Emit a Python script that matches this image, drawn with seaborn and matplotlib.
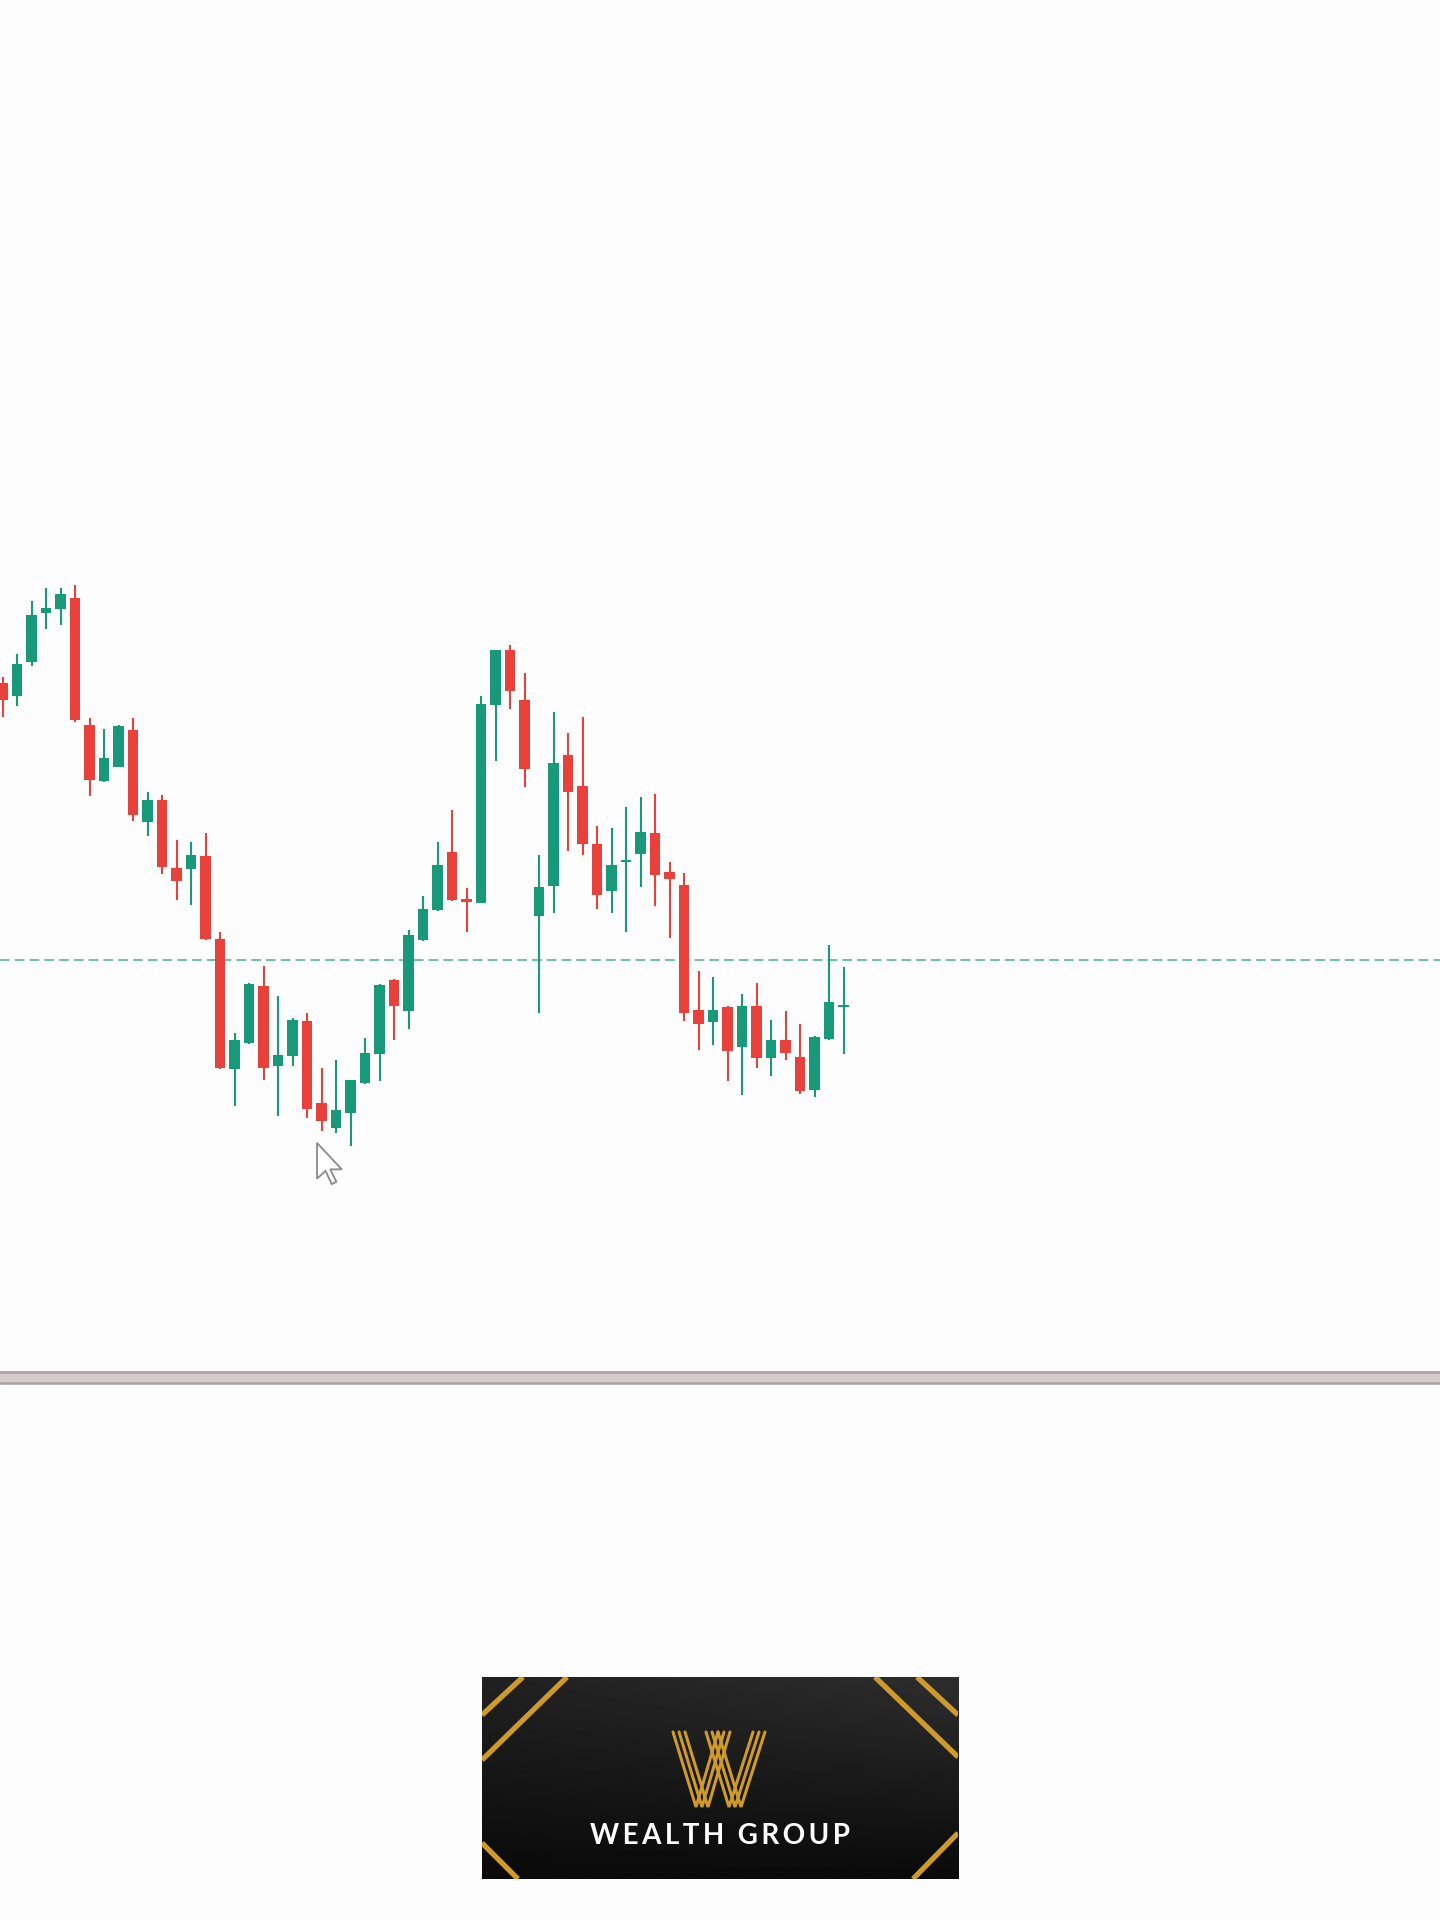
import numpy as np
import matplotlib
matplotlib.use("Agg")
import matplotlib.pyplot as plt
from matplotlib.patches import Rectangle, Polygon
from matplotlib.lines import Line2D
import seaborn as sns

# candle data (arbitrary price units)
opens = [1705, 1670, 1760, 1888, 1898, 1928, 1595, 1448, 1485, 1582,
         1342, 1400, 1222, 1220, 1252, 1035, 695, 765, 912, 703,
         730, 822, 608, 542, 582, 660, 735, 928, 848, 1032,
         1112, 1262, 1140, 1130, 1648, 1790, 1660, 1095, 1175, 1517,
         1435, 1285, 1160, 1238, 1258, 1312, 1210, 1178, 850, 820,
         858, 753, 862, 725, 772, 728, 642, 775, 858]
highs = [1720, 1780, 1918, 1952, 1952, 1962, 1612, 1585, 1595, 1612,
         1420, 1412, 1295, 1290, 1312, 1055, 790, 922, 965, 888,
         830, 842, 698, 720, 668, 778, 918, 932, 1060, 1148,
         1288, 1372, 1170, 1670, 1790, 1805, 1732, 1255, 1630, 1575,
         1615, 1332, 1325, 1380, 1408, 1415, 1237, 1207, 953, 937,
         860, 892, 920, 825, 848, 815, 782, 1020, 963]
lows = [1615, 1645, 1750, 1845, 1855, 1602, 1410, 1445, 1485, 1345,
        1305, 1205, 1138, 1125, 1032, 695, 600, 762, 668, 572,
        705, 568, 535, 530, 495, 658, 665, 772, 800, 1030,
        1110, 1135, 1055, 1130, 1500, 1638, 1432, 842, 1105, 1265,
        1255, 1115, 1105, 1055, 1172, 1122, 1038, 822, 745, 760,
        665, 628, 698, 678, 720, 630, 622, 772, 735]
closes = [1660, 1755, 1882, 1900, 1938, 1608, 1450, 1510, 1592, 1360,
          1400, 1225, 1188, 1255, 1035, 700, 772, 918, 698, 732,
          825, 592, 560, 590, 668, 738, 915, 860, 1045, 1115,
          1228, 1138, 1132, 1650, 1790, 1685, 1480, 1172, 1495, 1420,
          1285, 1152, 1228, 1242, 1315, 1203, 1192, 842, 815, 850,
          742, 862, 725, 772, 738, 638, 780, 872, 860]
level = 982  # dashed horizontal level

up_color = "#17997a"
down_color = "#e8403a"
bg = "#fefdfd"

W, H = 1440, 1920
sns.set_theme(style="white", rc={"figure.facecolor": bg, "axes.facecolor": bg})
plt.rcParams["font.family"] = ["Lato", "DejaVu Sans"]

fig = plt.figure(figsize=(W / 100, H / 100), dpi=100)

# price chart
ax = fig.add_axes([0, 1 - 1360 / H, 1, 1360 / H])
o = np.array(opens)
c = np.array(closes)
idx = np.arange(len(o))
colors = np.where(c >= o, up_color, down_color)
bottom = np.minimum(o, c)
height = np.maximum(np.abs(c - o), 5)

ax.vlines(idx, lows, highs, colors=colors, linewidth=1.5, zorder=2)
ax.bar(idx, height, bottom=bottom, width=0.74, color=colors, linewidth=0, zorder=3)
ax.axhline(level, color="#6cc2a6", linewidth=1.4, linestyle=(0, (5, 2.6)), zorder=1)

step = 14.5
x0 = 2.5
ax.set_xlim(-x0 / step, (W - x0) / step)
ax.set_ylim(2000 - (1360 - 570) * 2.613, 2000 + 570 * 2.613)
ax.set_xticks([])
ax.set_yticks([])
sns.despine(ax=ax, left=True, bottom=True)


def fx(px):
    return px / W


def fy(py):
    return 1 - py / H


# mouse cursor
tip = (317, 1143)
s = 1.55
shape = [(0, 0), (0, 23), (5.5, 18), (9.5, 26.5), (12.5, 25), (8.5, 17), (16, 17)]
pts = [(fx(tip[0] + s * a), fy(tip[1] + s * b)) for a, b in shape]
fig.add_artist(Polygon(pts, closed=True, facecolor="white", edgecolor="#8a8a8a",
                       linewidth=1.3, transform=fig.transFigure))

# separator line
fig.add_artist(Rectangle((0, fy(1384)), 1, (1384 - 1371) / H, facecolor="#d6cccd",
                         edgecolor="none", transform=fig.transFigure))
for yy in (1372, 1383):
    fig.add_artist(Line2D([0, 1], [fy(yy), fy(yy)], color="#a8a0a2", linewidth=1.8,
                          transform=fig.transFigure))

# logo
lx0, ly0, lx1, ly1 = 482, 1677, 958, 1879
lax = fig.add_axes([fx(lx0), fy(ly1), (lx1 - lx0) / W, (ly1 - ly0) / H])
lw_, lh_ = lx1 - lx0, ly1 - ly0
gx, gy = np.meshgrid(np.linspace(0, 1, 200), np.linspace(0, 1, 100))
grad = 0.13 - 0.09 * gy + 0.05 * gx * (1 - gy)
lax.imshow(grad, cmap="gray", vmin=0, vmax=1, extent=(0, lw_, lh_, 0), aspect="auto")
lax.set_xlim(0, lw_)
lax.set_ylim(lh_, 0)
lax.axis("off")

gold = "#cf9a2c"
for (xa, ya), (xb, yb) in [((41, 0), (0, 38)), ((85, 0), (0, 83)), ((0, 166), (36, 202)),
                           ((393, 0), (476, 80)), ((435, 0), (476, 38)), ((476, 156), (431, 202))]:
    lax.plot([xa, xb], [ya, yb], color=gold, linewidth=3.8, solid_capstyle="butt")

for base in ([(191, 55), (214, 130), (236, 55)], [(224, 55), (247, 130), (271, 55)]):
    for d in (0, 6, 12):
        xs = [p[0] + d for p in base]
        ys = [p[1] for p in base]
        lax.plot(xs, ys, color=gold, linewidth=2.2, solid_joinstyle="miter")

lax.text(lw_ / 2, 159, "W\u2009E\u2009A\u2009L\u2009T\u2009H  G\u2009R\u2009O\u2009U\u2009P",
         color="white", fontsize=20, fontweight="bold", ha="center", va="center")

fig.savefig("out.png", dpi=100, facecolor=bg)
